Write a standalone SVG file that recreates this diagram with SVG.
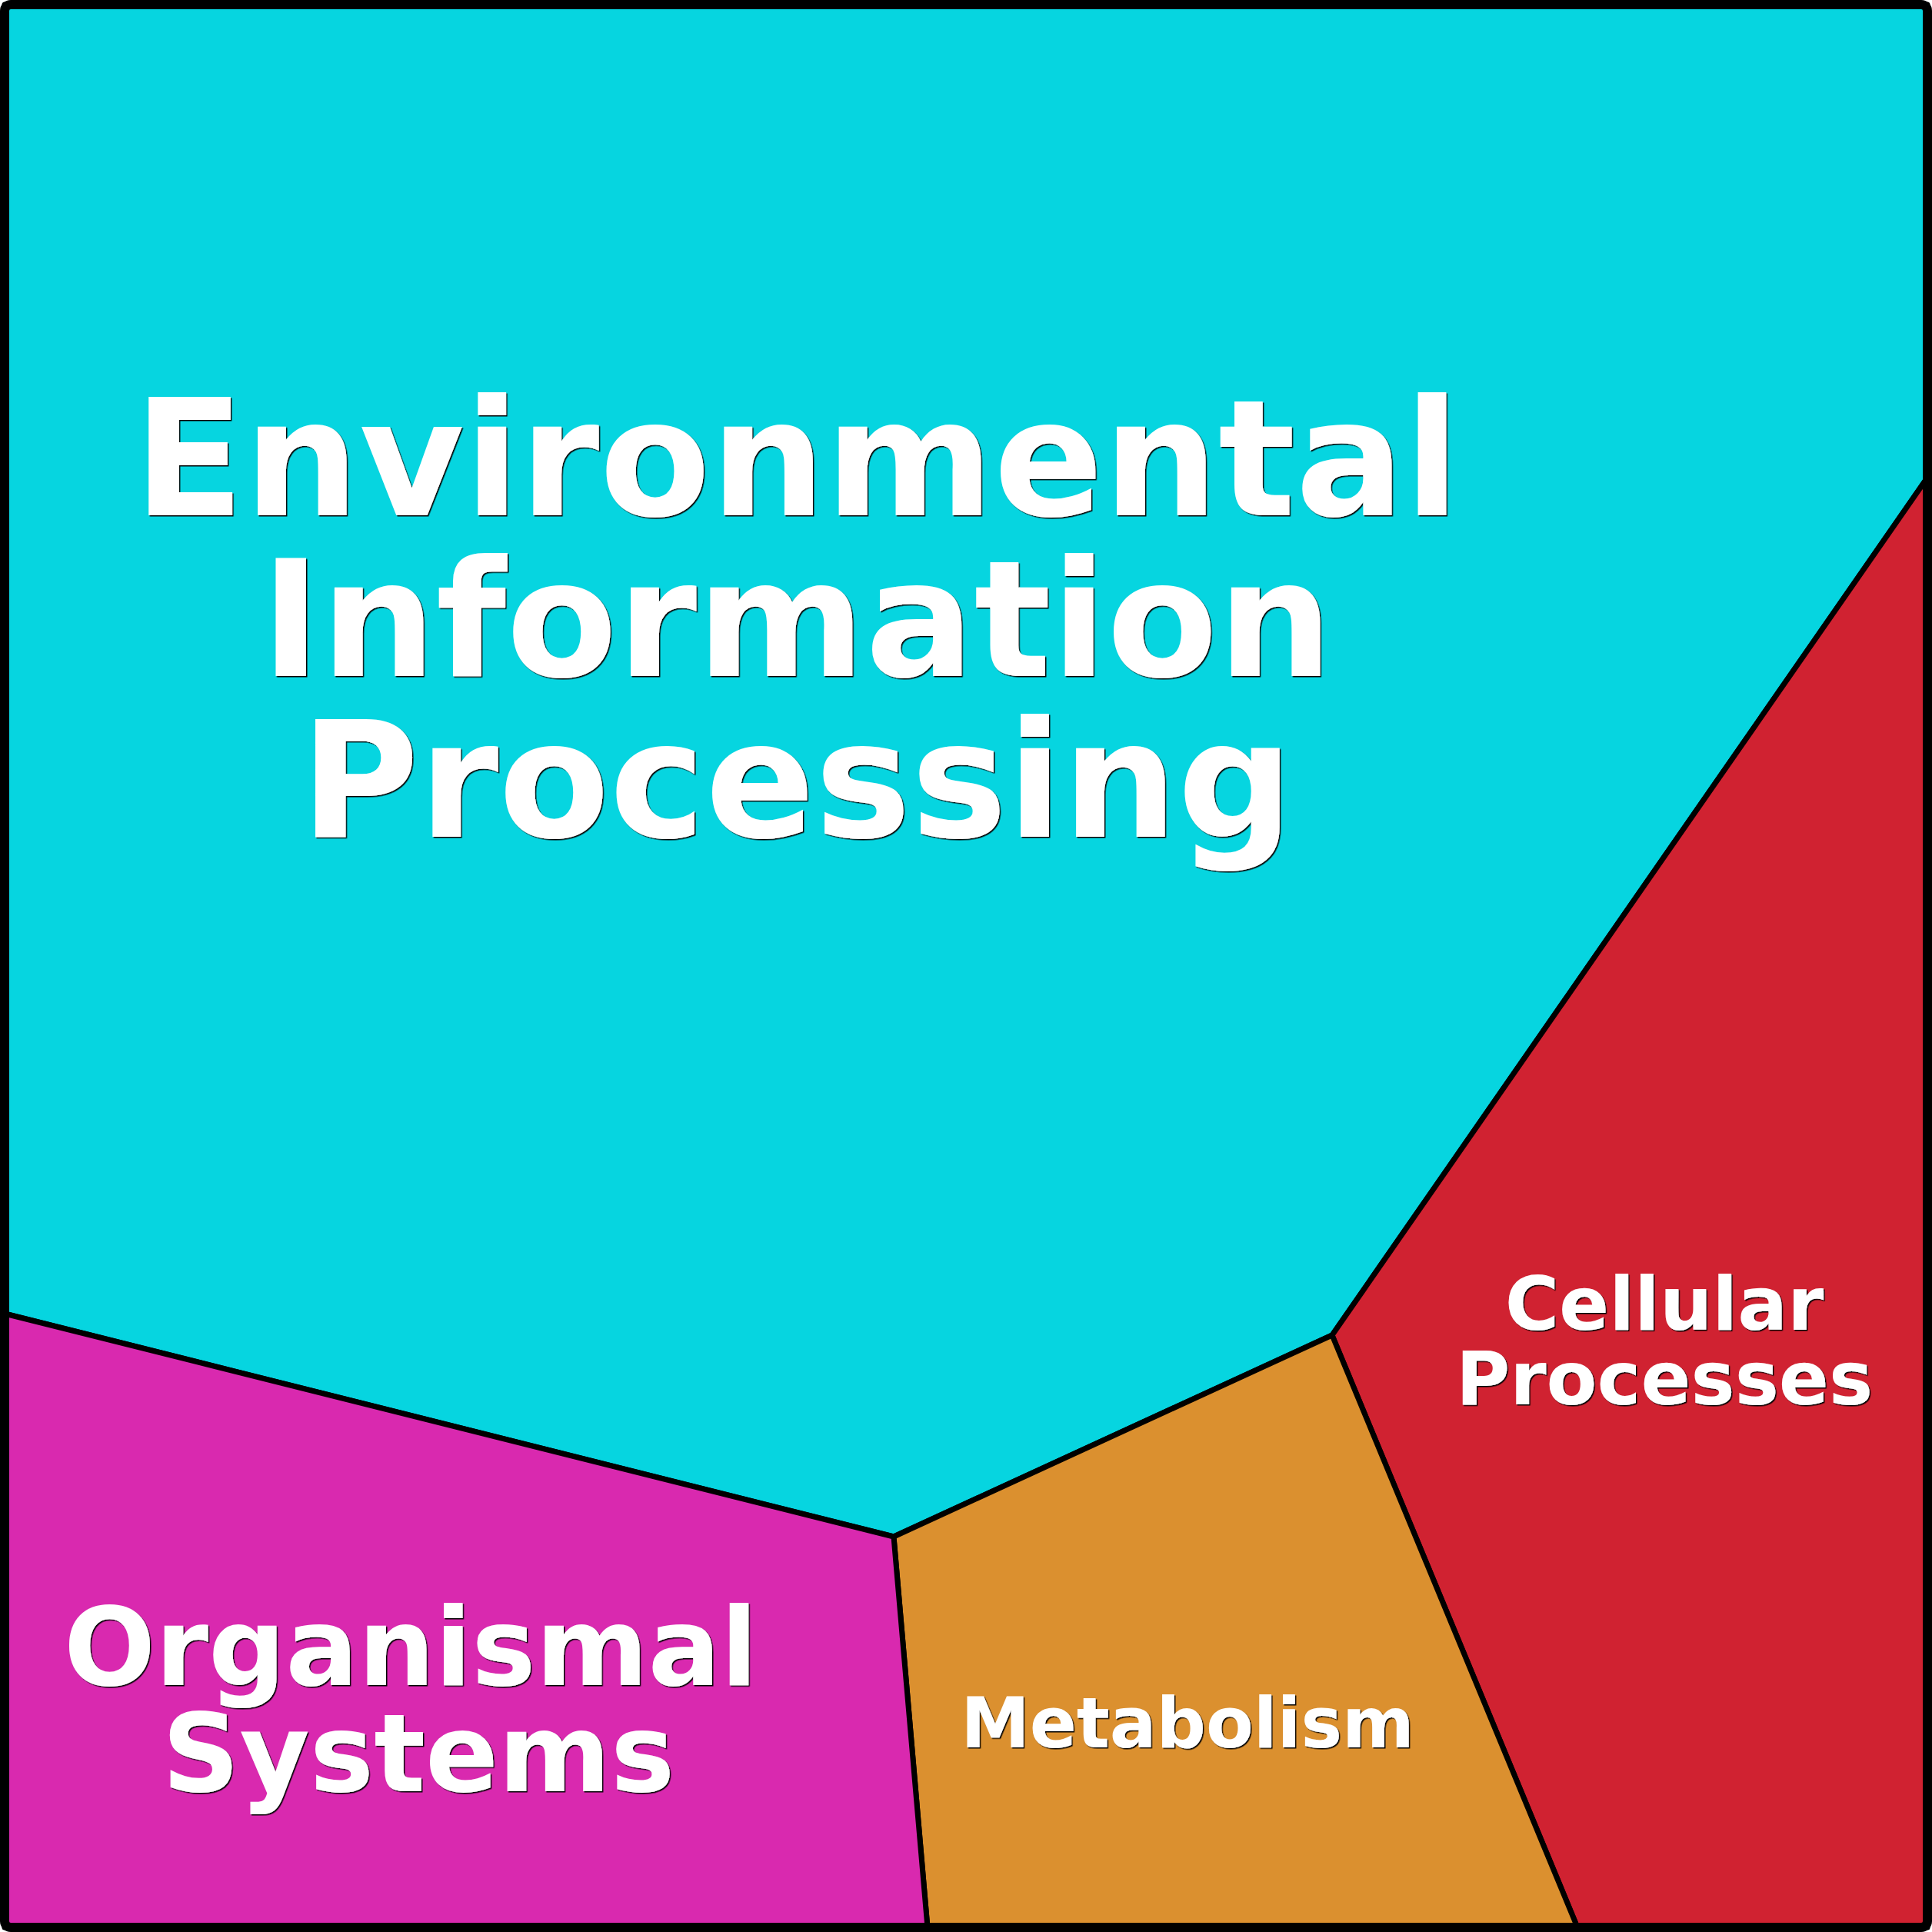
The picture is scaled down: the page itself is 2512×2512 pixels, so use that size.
<svg xmlns="http://www.w3.org/2000/svg" width="2512" height="2512" viewBox="0 0 2512 2512">
<defs>
<filter id="shadow" x="-5%" y="-5%" width="110%" height="110%">
<feDropShadow dx="1.5" dy="1.5" stdDeviation="0" flood-color="#000" flood-opacity="1"/>
</filter>
</defs>
<style>
.region{stroke:#000;stroke-width:7;stroke-linejoin:round}
.lbl{font-family:"DejaVu Sans","Liberation Sans",sans-serif;font-weight:bold;text-anchor:middle;fill:#fff;filter:url(#shadow)}
</style>
<rect x="0" y="0" width="2512" height="2512" fill="#fff"/>
<g id="environmental">
<polygon class="region" fill="#06d5e0" points="6,6 2506,6 2506,621 1732,1736 1162,1998 6,1708"/>
<g class="lbl" font-size="210">
<text x="1036" y="670">Environmental</text>
<text x="1036" y="879">Information</text>
<text x="1036" y="1088">Processing</text>
</g>
</g>
<g id="cellular">
<polygon class="region" fill="#d02231" points="2506,621 1732,1736 2051,2506 2506,2506"/>
<g class="lbl" font-size="96">
<text x="2164" y="1729">Cellular</text>
<text x="2164" y="1826">Processes</text>
</g>
</g>
<g id="metabolism">
<polygon class="region" fill="#db902f" points="1162,1998 1732,1736 2051,2506 1206,2506"/>
<g class="lbl" font-size="90">
<text x="1544" y="2272">Metabolism</text>
</g>
</g>
<g id="organismal">
<polygon class="region" fill="#d929af" points="6,1708 1162,1998 1206,2506 6,2506"/>
<g class="lbl" font-size="140">
<text x="534" y="2191">Organismal</text>
<text x="544" y="2329">Systems</text>
</g>
</g>
<g id="connectors"></g>
<rect x="6" y="6" width="2500" height="2500" rx="8" fill="none" stroke="#000" stroke-width="12"/>
</svg>
